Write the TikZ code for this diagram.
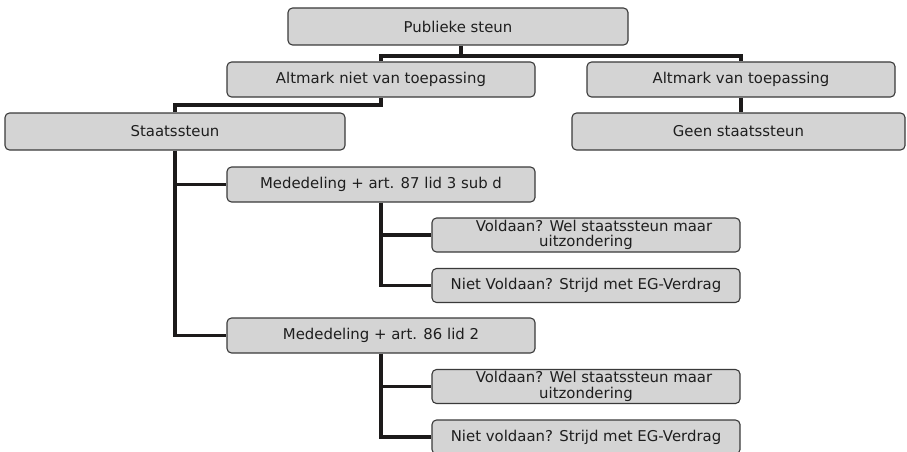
\documentclass[tikz,border=0pt]{standalone}
\usepackage{fontspec}
\setmainfont{DejaVu Sans}
\usetikzlibrary{backgrounds}
\definecolor{boxfill}{HTML}{D4D4D4}
\definecolor{boxedge}{HTML}{3A3A3A}
\definecolor{linecol}{HTML}{1C1A1A}
\definecolor{txtcol}{HTML}{1E1E1E}
\tikzset{
  box/.style={draw=boxedge, fill=boxfill, line width=1.1pt, rounded corners=4.5pt,
    inner sep=0pt, text=txtcol, align=center,
    font=\fontsize{14.9}{15.3}\selectfont},
  conn/.style={draw=linecol, line width=3.6pt, line join=miter}
}
\begin{document}
\begin{tikzpicture}[x=1pt,y=-1pt]
\useasboundingbox (0,0) rectangle (907,452);
\clip (0,0) rectangle (907,452);
\node[box, minimum width=340pt, minimum height=37pt] (pub) at (458,26.5) {Publieke steun};
\node[box, minimum width=308pt, minimum height=35pt] (anm) at (381,79.5) {Altmark niet van toepassing};
\node[box, minimum width=308pt, minimum height=35pt] (avt) at (741,79.5) {Altmark van toepassing};
\node[box, minimum width=340pt, minimum height=37pt] (staat) at (175,131.5) {Staatssteun};
\node[box, minimum width=333pt, minimum height=37pt] (geen) at (738.5,131.5) {Geen staatssteun};
\node[box, minimum width=308pt, minimum height=35pt] (med87) at (381,184.5) {Mededeling + art. 87 lid 3 sub d};
\node[box, minimum width=308pt, minimum height=34pt] (v1) at (586,235) {\hspace*{16pt}Voldaan? Wel staatssteun maar\\uitzondering};
\node[box, minimum width=308pt, minimum height=34pt] (nv1) at (586,285.5) {Niet Voldaan? Strijd met EG-Verdrag};
\node[box, minimum width=308pt, minimum height=35pt] (med86) at (381,335.5) {Mededeling + art. 86 lid 2};
\node[box, minimum width=308pt, minimum height=34pt] (v2) at (586,386.5) {\hspace*{16pt}Voldaan? Wel staatssteun maar\\uitzondering};
\node[box, minimum width=308pt, minimum height=34pt] (nv2) at (586,437) {Niet voldaan? Strijd met EG-Verdrag};
\coordinate (j1) at (461,56);
\coordinate (j2) at (175,105);
\begin{scope}[on background layer]
\draw[conn] (pub.south -| j1) -- (j1);
\draw[conn] (anm.north) |- (j1) -| (avt.north);
\draw[conn] (anm.south) |- (j2) -- (staat.north);
\draw[conn] (avt.south) -- (avt.south |- geen.north);
\draw[conn] (staat.south) |- (med87.west);
\draw[conn] (staat.south) |- (med86.west);
\draw[conn] (med87.south) |- (v1.west);
\draw[conn] (med87.south) |- (nv1.west);
\draw[conn] (med86.south) |- (v2.west);
\draw[conn] (med86.south) |- (nv2.west);
\end{scope}
\end{tikzpicture}
\end{document}
